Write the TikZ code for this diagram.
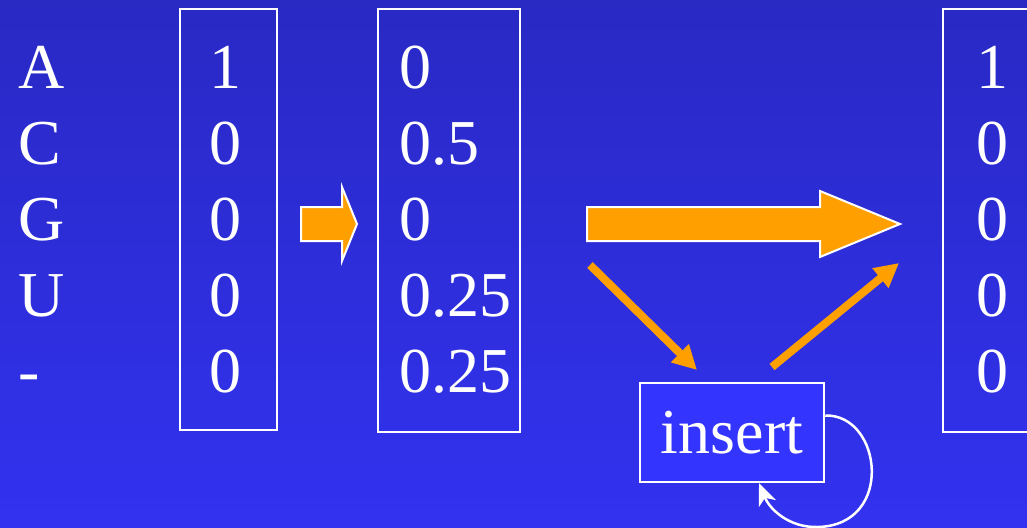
\documentclass[tikz,border=0pt]{standalone}
\usepackage{fontspec}
\setmainfont{Liberation Serif}
\usetikzlibrary{arrows.meta}
\definecolor{bgtop}{RGB}{41,41,196}
\definecolor{bgbot}{RGB}{50,50,240}
\definecolor{orangeA}{RGB}{255,160,0}
\definecolor{insfill}{RGB}{52,52,255}
\tikzset{
  big/.style={text=white,font=\fontsize{64}{76}\selectfont,inner sep=0pt,anchor=base},
  bigw/.style={big,anchor=base west},
  vbox/.style={draw=white,line width=2.5pt,inner sep=0pt},
  blockarrow/.style={fill=orangeA,draw=white,line width=2pt,line join=miter},
  thinarrow/.style={draw=orangeA,line width=8pt,-{Triangle[length=24pt,width=24pt]}},
  loop/.style={draw=white,line width=2.5pt,-{Stealth[length=22pt,width=18pt,inset=6pt]}}
}
\begin{document}
\begin{tikzpicture}[x=1pt,y=-1pt]
\useasboundingbox (0,0) rectangle (1027,527);
\shade[top color=bgtop,bottom color=bgbot] (0,0) rectangle (1027,527);
% left labels
\node[bigw] (lA) at (18,88) {A};
\node[bigw] (lC) at (18,164) {C};
\node[bigw] (lG) at (18,240) {G};
\node[bigw] (lU) at (18,316) {U};
\node[bigw] (lgap) at (18,392) {-};
% box 1
\node[vbox,minimum width=97pt,minimum height=421pt] (b1) at (228.5,219.5) {};
\node[big] (b1a) at (225,88) {1};
\node[big] (b1b) at (225,164) {0};
\node[big] (b1c) at (225,240) {0};
\node[big] (b1d) at (225,316) {0};
\node[big] (b1e) at (225,392) {0};
% box 2
\node[vbox,minimum width=142pt,minimum height=423pt] (b2) at (449,220.5) {};
\node[bigw] (b2a) at (399,88) {0};
\node[bigw] (b2b) at (399,164) {0.5};
\node[bigw] (b2c) at (399,240) {0};
\node[bigw] (b2d) at (399,316) {0.25};
\node[bigw] (b2e) at (399,392) {0.25};
% box 3
\node[vbox,minimum width=100pt,minimum height=423pt] (b3) at (993,220.5) {};
\node[big] (b3a) at (992,88) {1};
\node[big] (b3b) at (992,164) {0};
\node[big] (b3c) at (992,240) {0};
\node[big] (b3d) at (992,316) {0};
\node[big] (b3e) at (992,392) {0};
% block arrows
\path[blockarrow] (301,207) -- (342,207) -- (342,187) -- (357,224) -- (342,261) -- (342,241) -- (301,241) -- cycle;
\path[blockarrow] (587,207) -- (820,207) -- (820,191) -- (900,224) -- (820,257) -- (820,241) -- (587,241) -- cycle;
% insert box
\node[draw=white,line width=2.5pt,fill=insfill,minimum width=184pt,minimum height=99pt,inner sep=0pt,text=white,font=\fontsize{64}{76}\selectfont] (ins) at (732,432.5) {insert};
% diagonal arrows
\coordinate (d1s) at (590,265);
\coordinate (d1e) at (697,370);
\coordinate (d2s) at (772,367);
\coordinate (d2e) at (899,263);
\draw[thinarrow] (d1s) -- (d1e);
\draw[thinarrow] (d2s) -- (d2e);
% self loop
\coordinate (ls) at ([yshift=17pt]ins.east);
\coordinate (le) at (759,483);
\draw[loop] (ls) .. controls (882,414) and (895,525) .. (818,527) .. controls (790,528) and (770,510) .. (le);
\end{tikzpicture}
\end{document}
